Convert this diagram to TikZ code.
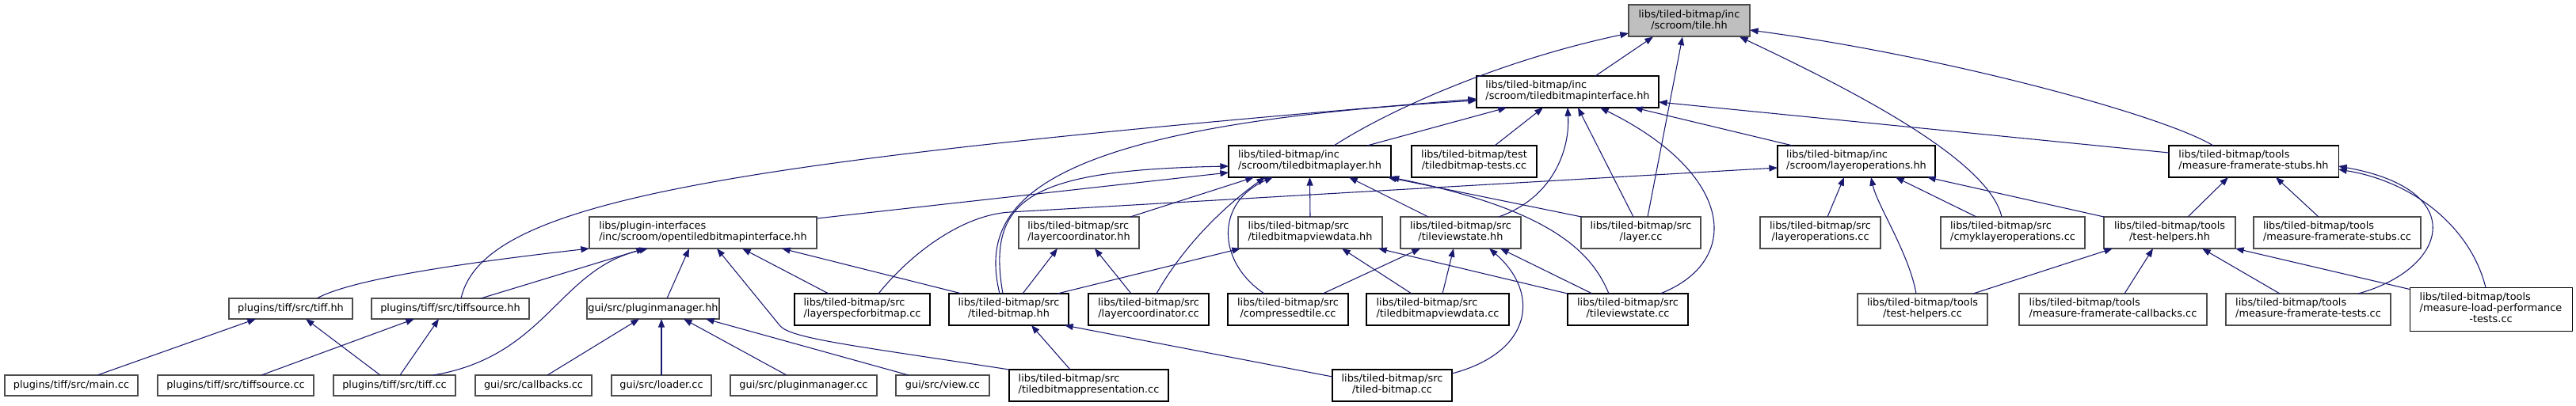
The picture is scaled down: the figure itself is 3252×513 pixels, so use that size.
\documentclass[tikz,border=0pt]{standalone}
\usepackage{fontspec}
\setmainfont{DejaVu Sans}
\usepackage{tikz}
\usetikzlibrary{arrows.meta, positioning}
\definecolor{edgeblue}{HTML}{191970}
\definecolor{rootgray}{HTML}{BFBFBF}
\definecolor{boxgray}{HTML}{4D4D4D}
\newcommand{\dgfont}{\fontsize{9.65}{10.5}\selectfont}
\newcommand{\twolbl}[2]{\begin{tabular}{@{}l@{}}#1\\\multicolumn{1}{@{}c@{}}{#2}\end{tabular}}
\newcommand{\threelbl}[3]{\begin{tabular}{@{}l@{}}#1\\#2\\\multicolumn{1}{@{}c@{}}{#3}\end{tabular}}
\renewcommand{\arraystretch}{1}
\tikzset{
  filenode/.style={draw=black, line width=0.8pt, fill=white, inner sep=0pt,
                   outer sep=0pt, font=\dgfont},
  grayfile/.style={filenode, draw=boxgray, line width=1.5pt},
  rootfile/.style={filenode, draw=boxgray, line width=1.5pt, fill=rootgray},
  oneline/.style={minimum height=19.5pt},
  twoline/.style={minimum height=30pt},
  threeline/.style={minimum height=41.25pt},
  bw/.style={minimum width=#1*0.75pt},
  incarrow/.style={draw=edgeblue, line width=0.8pt, -{Triangle[length=8pt,width=6pt]}},
}

\begin{document}
\begin{tikzpicture}[x=0.75pt, y=-0.75pt]
  \useasboundingbox (0,0) rectangle (3252,513);

  %% Rank 1: the header itself
  \node[rootfile, twoline, bw=153] (T) at (2132.5,26.5) {\twolbl{libs/tiled-bitmap/inc}{/scroom/tile.hh}};

  %% Rank 2
  \node[filenode, twoline, bw=230] (IF) at (1979,116) {\twolbl{libs/tiled-bitmap/inc}{/scroom/tiledbitmapinterface.hh}};

  %% Rank 3
  \node[filenode, twoline, bw=205] (LY) at (1653.5,204) {\twolbl{libs/tiled-bitmap/inc}{/scroom/tiledbitmaplayer.hh}};
  \node[filenode, twoline, bw=158, right=19.5pt of LY] (TT) {\twolbl{libs/tiled-bitmap/test}{/tiledbitmap-tests.cc}};
  \node[filenode, twoline, bw=199] (LO) at (2343.5,204) {\twolbl{libs/tiled-bitmap/inc}{/scroom/layeroperations.hh}};
  \node[filenode, twoline, bw=214] (MS) at (2845,204) {\twolbl{libs/tiled-bitmap/tools}{/measure-framerate-stubs.hh}};

  %% Rank 4
  \node[grayfile, twoline, bw=287] (OT) at (887.5,294) {\twolbl{libs/plugin-interfaces}{/inc/scroom/opentiledbitmapinterface.hh}};
  \node[grayfile, twoline, bw=152] (LCH) at (1362,294) {\twolbl{libs/tiled-bitmap/src}{/layercoordinator.hh}};
  \node[grayfile, twoline, bw=182] (VDH) at (1654,294) {\twolbl{libs/tiled-bitmap/src}{/tiledbitmapviewdata.hh}};
  \node[grayfile, twoline, bw=152, right=17.25pt of VDH] (VSH) {\twolbl{libs/tiled-bitmap/src}{/tileviewstate.hh}};
  \node[grayfile, twoline, bw=151] (LCC) at (2071.5,294) {\twolbl{libs/tiled-bitmap/src}{/layer.cc}};
  \node[grayfile, twoline, bw=152] (LOC) at (2298,294) {\twolbl{libs/tiled-bitmap/src}{/layeroperations.cc}};
  \node[grayfile, twoline, bw=182] (CMY) at (2541,294) {\twolbl{libs/tiled-bitmap/src}{/cmyklayeroperations.cc}};
  \node[grayfile, twoline, bw=166] (TH) at (2739,294) {\twolbl{libs/tiled-bitmap/tools}{/test-helpers.hh}};
  \node[grayfile, twoline, bw=211, right=17.25pt of TH] (MSC) {\twolbl{libs/tiled-bitmap/tools}{/measure-framerate-stubs.cc}};

  %% Rank 5
  \node[grayfile, oneline, bw=156] (tiffhh) at (367,390) {plugins/tiff/src/tiff.hh};
  \node[grayfile, oneline, bw=199, right=18pt of tiffhh] (tiffsrchh) {plugins/tiff/src/tiffsource.hh};
  \node[grayfile, oneline, bw=167] (PMH) at (824.5,390) {gui/src/pluginmanager.hh};
  \node[filenode, twoline, bw=171] (LSB) at (1088.5,391) {\twolbl{libs/tiled-bitmap/src}{/layerspecforbitmap.cc}};
  \node[filenode, twoline, bw=151, right=18pt of LSB] (TBH) {\twolbl{libs/tiled-bitmap/src}{/tiled-bitmap.hh}};
  \node[filenode, twoline, bw=152, right=18.75pt of TBH] (LCCC) {\twolbl{libs/tiled-bitmap/src}{/layercoordinator.cc}};
  \node[filenode, twoline, bw=152, right=18pt of LCCC] (CT) {\twolbl{libs/tiled-bitmap/src}{/compressedtile.cc}};
  \node[filenode, twoline, bw=180, right=17.25pt of CT] (VDC) {\twolbl{libs/tiled-bitmap/src}{/tiledbitmapviewdata.cc}};
  \node[filenode, twoline, bw=152] (TVC) at (2055,391) {\twolbl{libs/tiled-bitmap/src}{/tileviewstate.cc}};
  \node[grayfile, twoline, bw=164] (THC) at (2427,391) {\twolbl{libs/tiled-bitmap/tools}{/test-helpers.cc}};
  \node[grayfile, twoline, bw=237] (MFCB) at (2667.5,391) {\twolbl{libs/tiled-bitmap/tools}{/measure-framerate-callbacks.cc}};
  \node[grayfile, twoline, bw=208, right=18pt of MFCB] (MFT) {\twolbl{libs/tiled-bitmap/tools}{/measure-framerate-tests.cc}};
  \node[filenode, threeline, bw=205, right=18pt of MFT] (MLP) {\threelbl{libs/tiled-bitmap/tools}{/measure-load-performance}{-tests.cc}};

  %% Rank 6
  \node[grayfile, oneline, bw=168] (maincc) at (90,487) {plugins/tiff/src/main.cc};
  \node[grayfile, oneline, bw=197, right=18.75pt of maincc] (tiffsrccc) {plugins/tiff/src/tiffsource.cc};
  \node[grayfile, oneline, bw=154, right=18.75pt of tiffsrccc] (tiffcc) {plugins/tiff/src/tiff.cc};
  \node[grayfile, oneline, bw=147, right=18.75pt of tiffcc] (cbcc) {gui/src/callbacks.cc};
  \node[grayfile, oneline, bw=126, right=18.75pt of cbcc] (loadercc) {gui/src/loader.cc};
  \node[grayfile, oneline, bw=185, right=18pt of loadercc] (PMC) {gui/src/pluginmanager.cc};
  \node[grayfile, oneline, bw=118, right=18pt of PMC] (viewcc) {gui/src/view.cc};
  \node[filenode, twoline, bw=201, right=18.75pt of viewcc] (TBP) {\twolbl{libs/tiled-bitmap/src}{/tiledbitmappresentation.cc}};
  \node[filenode, twoline, bw=151] (TBC) at (1757.5,487) {\twolbl{libs/tiled-bitmap/src}{/tiled-bitmap.cc}};

  %% Edges into tile.hh
  \draw[incarrow] ([shift={(35,0)}]IF.north) -- ([shift={(-45.5,0)}]T.south);
  \draw[incarrow] ([shift={(30.5,0)}]LY.north) .. controls (1760,135) and (1900,75) .. ([shift={(0,15.5)}]T.west);
  \draw[incarrow] ([shift={(8.5,0)}]LCC.north) -- ([shift={(-8.5,0)}]T.south);
  \draw[incarrow] ([shift={(-14,0)}]CMY.north) .. controls (2510,200) and (2330,110) .. ([shift={(63.5,0)}]T.south);
  \draw[incarrow] ([shift={(-51,0)}]MS.north) .. controls (2730,145) and (2450,70) .. ([shift={(0,11.5)}]T.east);

  %% Edges into tiledbitmapinterface.hh
  \draw[incarrow] ([shift={(72.5,0)}]LY.north) -- ([shift={(-77,0)}]IF.south);
  \draw[incarrow] ([shift={(26,0)}]TT.north) -- ([shift={(-31,0)}]IF.south);
  \draw[incarrow] ([shift={(48,0)}]VSH.north) .. controls (1960,250) and (1982,190) .. (IF.south);
  \draw[incarrow] ([shift={(-9.5,0)}]LCC.north) -- ([shift={(13,0)}]IF.south);
  \draw[incarrow] ([shift={(41,0)}]TVC.north) .. controls (2200,330) and (2190,220) .. ([shift={(41,0)}]IF.south);
  \draw[incarrow] ([shift={(-80.5,0)}]LO.north) -- ([shift={(84,0)}]IF.south);
  \draw[incarrow] ([shift={(0,-11)}]MS.west) -- ([shift={(0,13)}]IF.east);
  \draw[incarrow] ([shift={(13.5,0)}]tiffsrchh.north) .. controls (610,255) and (900,205) .. ([shift={(0,9)}]IF.west);
  \draw[incarrow] ([shift={(-11.5,0)}]TBH.north) .. controls (1235,260) and (1300,160) .. ([shift={(0,11)}]IF.west);

  %% Edges into tiledbitmaplayer.hh
  \draw[incarrow] ([shift={(-7.5,0)}]TBH.north) .. controls (1245,250) and (1300,215) .. ([shift={(0,6)}]LY.west);
  \draw[incarrow] ([shift={(0,-18)}]OT.east) -- ([shift={(0,14)}]LY.west);
  \draw[incarrow] ([shift={(65,0)}]LCH.north) -- ([shift={(-70.5,0)}]LY.south);
  \draw[incarrow] ([shift={(10,0)}]LCCC.north) .. controls (1500,300) and (1560,250) .. ([shift={(-56.5,0)}]LY.south);
  \draw[incarrow] ([shift={(-30,0)}]CT.north) .. controls (1535,330) and (1535,255) .. ([shift={(-46.5,0)}]LY.south);
  \draw[incarrow] (VDH.north) -- (LY.south);
  \draw[incarrow] ([shift={(-41,0)}]VSH.north) -- ([shift={(49.5,0)}]LY.south);
  \draw[incarrow] ([shift={(-75,0)}]LCC.north) -- ([shift={(98.5,0)}]LY.south);
  \draw[incarrow] ([shift={(-24,0)}]TVC.north) .. controls (2010,320) and (1960,265) .. ([shift={(102,0)}]LY.south);

  %% Edges into the src headers
  \draw[incarrow] ([shift={(17.5,0)}]TBH.north) -- ([shift={(-27,0)}]LCH.south);
  \draw[incarrow] ([shift={(-22,0)}]LCCC.north) -- ([shift={(20,0)}]LCH.south);
  \draw[incarrow] ([shift={(61.5,0)}]TBH.north) -- ([shift={(-88,0)}]VDH.south);
  \draw[incarrow] ([shift={(-33,0)}]VDC.north) -- ([shift={(40,0)}]VDH.south);
  \draw[incarrow] (TVC.north west) -- ([shift={(86,0)}]VDH.south);
  \draw[incarrow] ([shift={(44,0)}]CT.north) -- ([shift={(-51,0)}]VSH.south);
  \draw[incarrow] ([shift={(6,0)}]VDC.north) -- ([shift={(-9,0)}]VSH.south);
  \draw[incarrow] ([shift={(0,-15)}]TBC.east) .. controls (1935,445) and (1945,370) .. ([shift={(36,0)}]VSH.south);
  \draw[incarrow] ([shift={(-45,0)}]TVC.north) -- ([shift={(50,0)}]VSH.south);

  %% Edges into layeroperations.hh
  \draw[incarrow] ([shift={(20.5,0)}]LSB.north) .. controls (1150,320) and (1215,271.5) .. (1275,268) -- ([shift={(0,8)}]LO.west);
  \draw[incarrow] ([shift={(9,0)}]LOC.north) -- ([shift={(-15.5,0)}]LO.south);
  \draw[incarrow] ([shift={(-8,0)}]THC.north) .. controls (2410,320) and (2370,260) .. ([shift={(18.5,0)}]LO.south);
  \draw[incarrow] ([shift={(-46,0)}]CMY.north) -- ([shift={(49.5,0)}]LO.south);
  \draw[incarrow] (TH.north west) -- ([shift={(89.5,0)}]LO.south);

  %% Edges into the tools headers
  \draw[incarrow] ([shift={(23,0)}]TH.north) -- ([shift={(-32,0)}]MS.south);
  \draw[incarrow] ([shift={(-23.5,0)}]MSC.north) -- ([shift={(28,0)}]MS.south);
  \draw[incarrow] ([shift={(63,0)}]MFT.north) .. controls (3090,340) and (3120,240) .. ([shift={(0,6)}]MS.east);
  \draw[incarrow] ([shift={(-6.5,0)}]MLP.north) .. controls (3120,290) and (3050,230) .. ([shift={(0,10)}]MS.east);
  \draw[incarrow] ([shift={(64,0)}]THC.north) -- ([shift={(-72,0)}]TH.south);
  \draw[incarrow] ([shift={(14.5,0)}]MFCB.north) -- ([shift={(-21,0)}]TH.south);
  \draw[incarrow] ([shift={(-36,0)}]MFT.north) -- ([shift={(41,0)}]TH.south);
  \draw[incarrow] ([shift={(0,2)}]MLP.north west) -- (TH.south east);

  %% Edges into opentiledbitmapinterface.hh
  \draw[incarrow] ([shift={(33,0)}]tiffhh.north) .. controls (440,355) and (560,335) .. (OT.south west);
  \draw[incarrow] ([shift={(38.5,0)}]tiffsrchh.north) -- ([shift={(-73.5,0)}]OT.south);
  \draw[incarrow] ([shift={(49,0)}]tiffcc.north) .. controls (690,450) and (705,340) .. ([shift={(-69.5,0)}]OT.south);
  \draw[incarrow] ([shift={(17.5,0)}]PMH.north) -- ([shift={(-17.5,0)}]OT.south);
  \draw[incarrow] (TBP.north west) .. controls (1080,437) and (1000,428) .. (985,412) -- ([shift={(17.5,0)}]OT.south);
  \draw[incarrow] ([shift={(-42.5,0)}]LSB.north) -- ([shift={(49.5,0)}]OT.south);
  \draw[incarrow] ([shift={(-59.5,0)}]TBH.north) -- ([shift={(99.5,0)}]OT.south);

  %% Edges into the plugin and gui headers
  \draw[incarrow] ([shift={(33,0)}]maincc.north) -- ([shift={(-44,0)}]tiffhh.south);
  \draw[incarrow] ([shift={(-18,0)}]tiffcc.north) -- ([shift={(19,0)}]tiffhh.south);
  \draw[incarrow] ([shift={(32.5,0)}]tiffsrccc.north) -- ([shift={(-45.5,0)}]tiffsrchh.south);
  \draw[incarrow] ([shift={(7,0)}]tiffcc.north) -- ([shift={(-14.5,0)}]tiffsrchh.south);
  \draw[incarrow] ([shift={(17.5,0)}]cbcc.north) -- ([shift={(-17.5,0)}]PMH.south);
  \draw[incarrow] (loadercc.north) -- ([shift={(10.5,0)}]PMH.south);
  \draw[incarrow] ([shift={(-21.5,0)}]PMC.north) -- ([shift={(38.5,0)}]PMH.south);
  \draw[incarrow] ([shift={(-43,0)}]viewcc.north) -- ([shift={(66.5,0)}]PMH.south);

  %% Edges into tiled-bitmap.hh
  \draw[incarrow] ([shift={(-23.5,0)}]TBP.north) -- ([shift={(28.5,0)}]TBH.south);
  \draw[incarrow] ([shift={(0,-11)}]TBC.west) -- ([shift={(70.5,0)}]TBH.south);

\end{tikzpicture}
\end{document}
